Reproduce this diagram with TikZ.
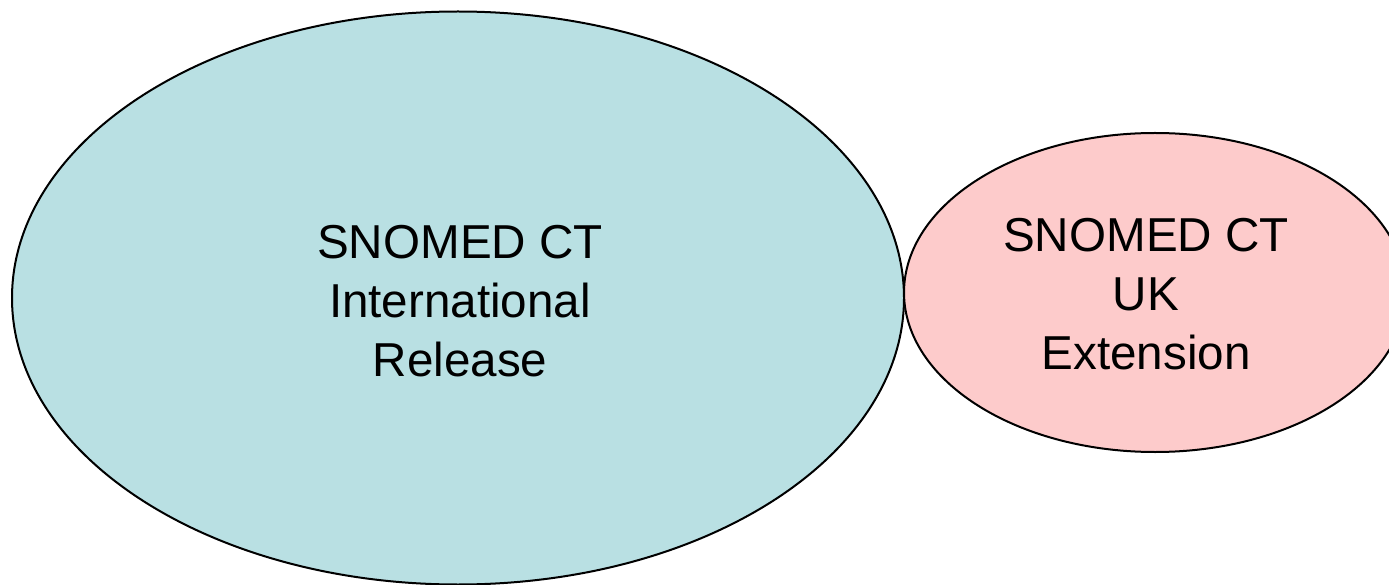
\documentclass[tikz,border=0pt]{standalone}
\usepackage{fontspec}
\setmainfont{Liberation Sans}
\usetikzlibrary{shapes.geometric}
\definecolor{intblue}{HTML}{B9E0E3}
\definecolor{ukpink}{HTML}{FDCBCB}
\begin{document}
\begin{tikzpicture}[x=1pt,y=-1pt,
  blob/.style={ellipse, draw=black, line width=2pt, inner sep=0pt},
  label/.style={align=center, font=\fontsize{47.6}{59}\selectfont, inner sep=0pt}]
\useasboundingbox (0,0) rectangle (1389,585);
\clip (0,0) rectangle (1389,585);
\node[blob, fill=intblue, minimum width=892pt, minimum height=573pt] (intl) at (458,298) {};
\node[blob, fill=ukpink, minimum width=502pt, minimum height=319pt] (uk) at (1155,292.5) {};
\node[label] (intltext) at (460,301) {SNOMED CT\\International\\Release};
\node[label] (uktext) at (1146,294) {SNOMED CT\\UK\\Extension};
\end{tikzpicture}
\end{document}
